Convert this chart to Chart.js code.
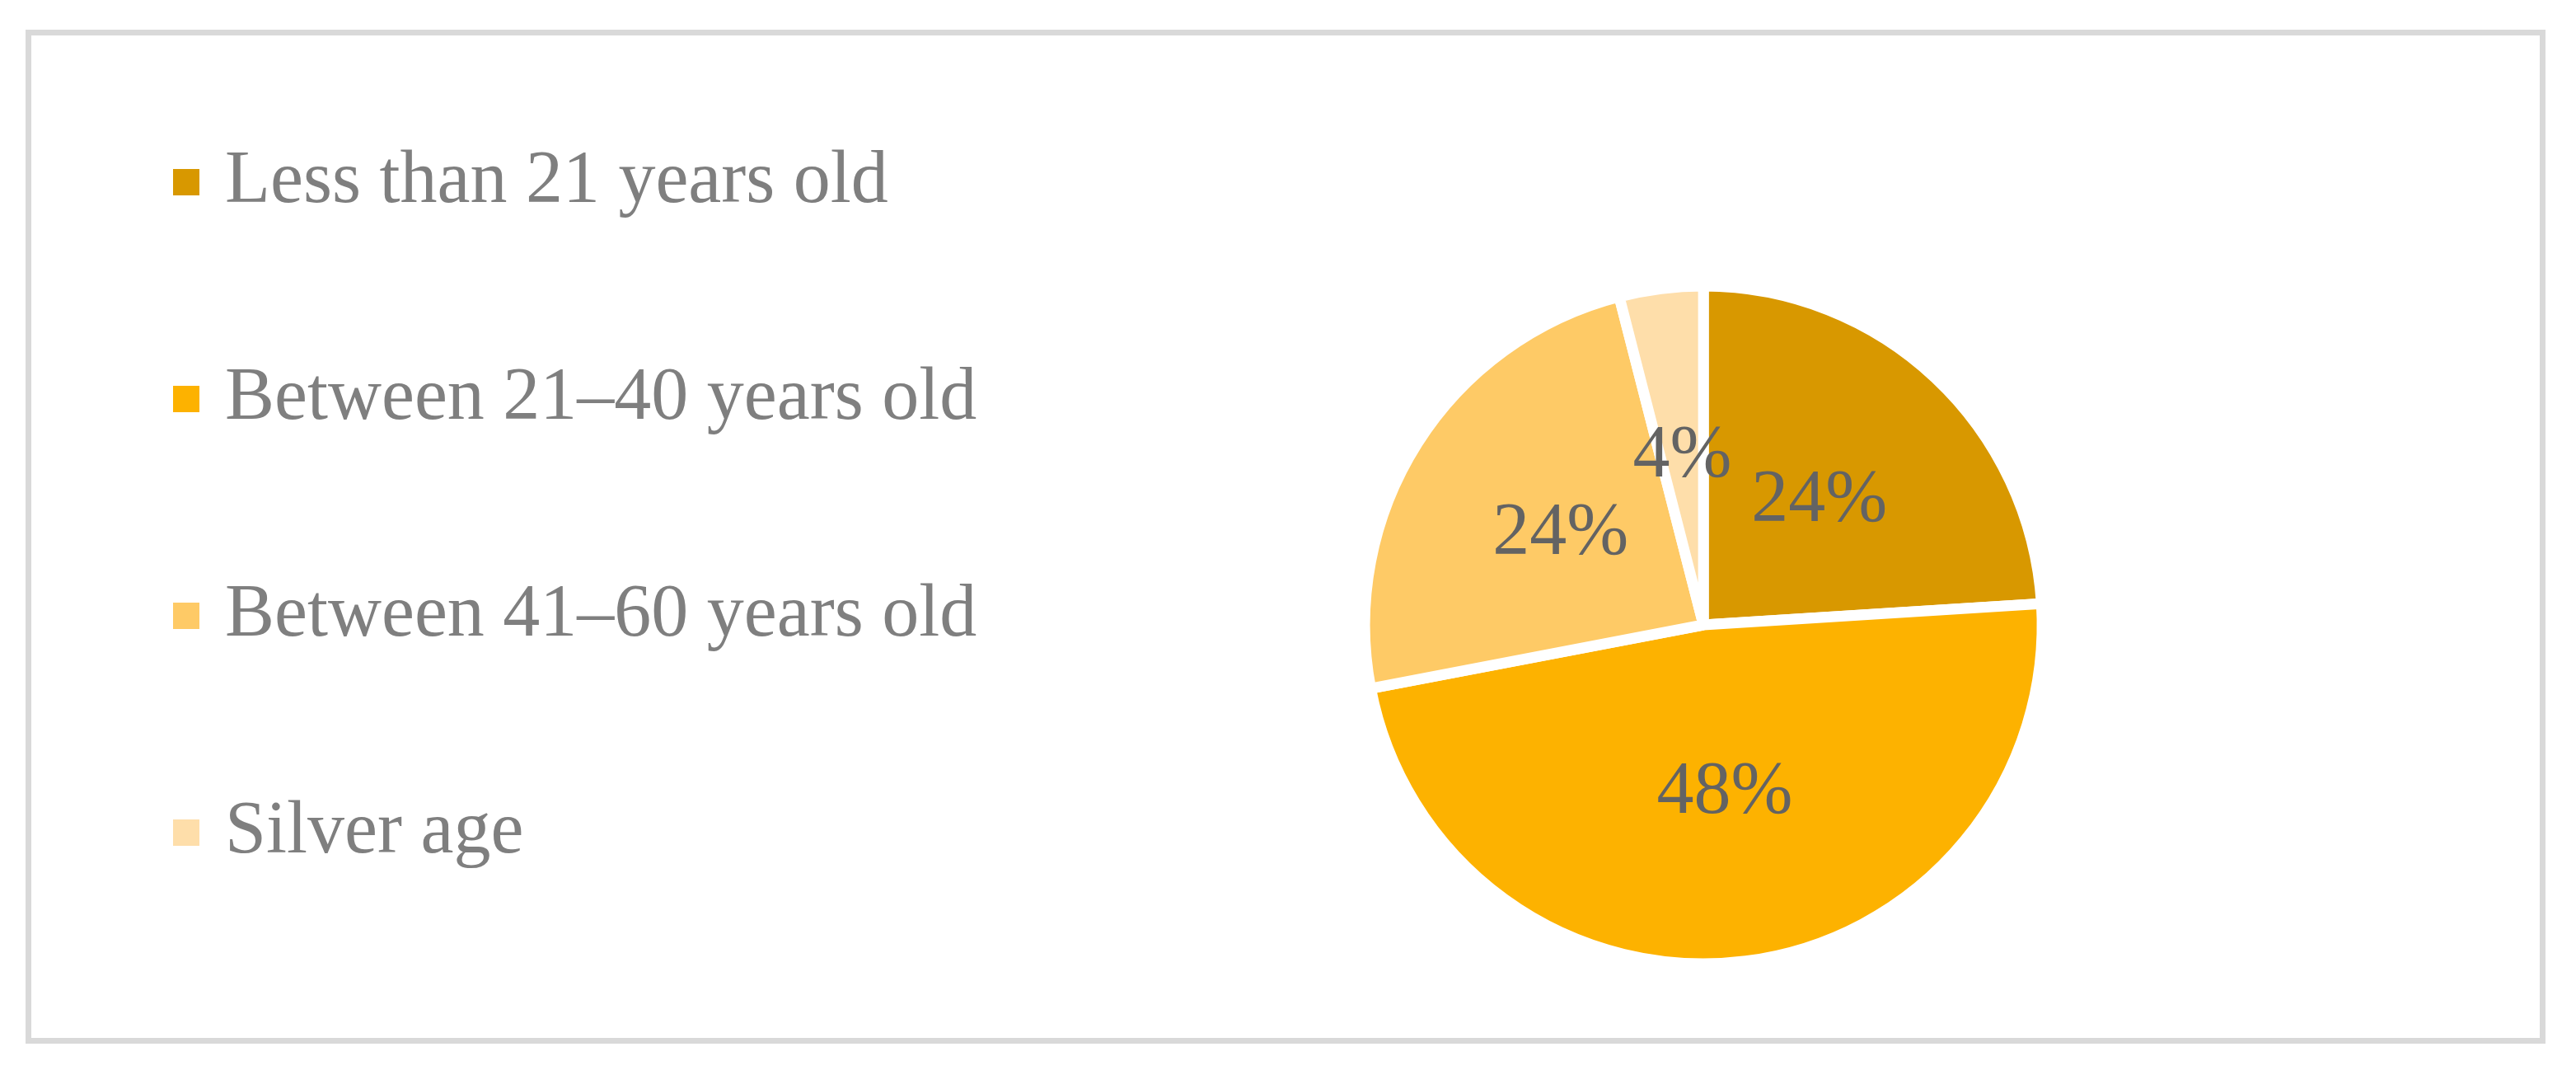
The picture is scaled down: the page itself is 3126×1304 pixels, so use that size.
<!DOCTYPE html>
<html>
<head>
<meta charset="utf-8">
<script src="https://cdn.jsdelivr.net/npm/chart.js@4.4.1/dist/chart.umd.min.js"></script>
<style>
  html, body { margin: 0; padding: 0; background: #ffffff; width: 3126px; height: 1304px; overflow: hidden; }
  #wrap { position: relative; width: 3126px; height: 1304px; overflow: hidden; }
  #c { position: absolute; left: 0; top: 0; }
  #frame { position: absolute; left: 31px; top: 36px; width: 3058px; height: 1230px; box-sizing: border-box; border: 7px solid #d9d9d9; pointer-events: none; }
</style>
</head>
<body>
<div id="wrap">
  <canvas id="c" width="3126" height="1513" style="width:3126px;height:1513px"></canvas>
  <div id="frame"></div>
</div>
<script>
const categories = ['Less than 21 years old', 'Between 21\u201340 years old', 'Between 41\u201360 years old', 'Silver age'];
const shares = [24, 48, 24, 4];
const sliceColors = ['#D89800', '#FDB200', '#FECA66', '#FEDEAA'];

const FONT = '"Liberation Serif", "Times New Roman", serif';

function swatch(color) {
  const c = document.createElement('canvas');
  c.width = 32; c.height = 32;
  const g = c.getContext('2d');
  g.fillStyle = color;
  g.fillRect(0, 0, 32, 32);
  return c;
}

const pieLabels = {
  id: 'pieLabels',
  afterDatasetsDraw(chart) {
    const ctx = chart.ctx;
    const meta = chart.getDatasetMeta(0);
    const ds = chart.data.datasets[0];
    ctx.save();
    ctx.font = '90px ' + FONT;
    ctx.fillStyle = '#636363';
    ctx.textAlign = 'center';
    ctx.textBaseline = 'middle';
    meta.data.forEach((arc, i) => {
      const p = arc.tooltipPosition();
      ctx.fillText(ds.data[i] + '%', p.x, p.y);
    });
    ctx.restore();
  }
};

new Chart(document.getElementById('c'), {
  type: 'pie',
  data: {
    labels: categories,
    datasets: [{
      data: shares,
      backgroundColor: sliceColors,
      borderColor: '#ffffff',
      borderWidth: 13,
      hoverOffset: 0
    }]
  },
  options: {
    responsive: false,
    animation: false,
    radius: 411,
    layout: { padding: { left: 51, right: 187, top: 3, bottom: 0 } },
    plugins: {
      tooltip: { enabled: false },
      legend: {
        position: 'left',
        align: 'start',
        labels: {
          usePointStyle: true,
          pointStyleWidth: 4,
          boxHeight: 32,
          padding: 173,
          color: '#7f7f7f',
          font: { family: FONT, size: 90 },
          generateLabels(chart) {
            const items = Chart.overrides.pie.plugins.legend.labels.generateLabels(chart);
            items.forEach((it, i) => {
              it.lineWidth = 0;
              it.strokeStyle = 'rgba(0,0,0,0)';
              it.pointStyle = swatch(sliceColors[i]);
            });
            return items;
          }
        }
      }
    }
  },
  plugins: [pieLabels]
});
</script>
</body>
</html>
